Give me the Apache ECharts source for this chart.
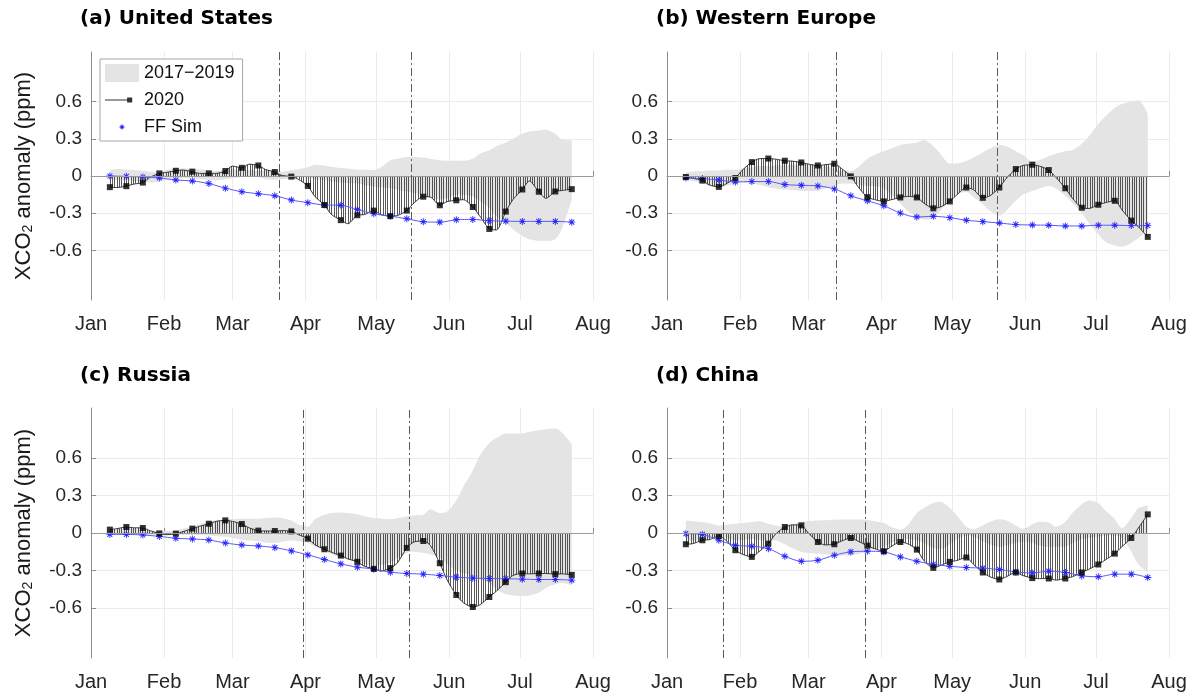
<!DOCTYPE html>
<html>
<head>
<meta charset="utf-8">
<script src="https://cdn.jsdelivr.net/npm/echarts@6.0.0/dist/echarts.min.js"></script>
<style>
  html, body { margin: 0; background: #fff; }
  #chart { width: 1193px; height: 694px; }
</style>
</head>
<body>
<div id="chart"></div>
<script>
// axis ticks
var monthLabels = ['Jan', 'Feb', 'Mar', 'Apr', 'May', 'Jun', 'Jul', 'Aug']
var monthStarts = [0, 31, 60, 91, 121, 152, 182, 213]
var yTicks = [-0.6, -0.3, 0, 0.3, 0.6]

// day of year (Jan 1 = 0): weekly points and mid-week points
var days = [8, 11, 15, 18, 22, 25, 29, 32, 36, 39, 43, 46, 50, 53, 57, 60, 64, 67, 71, 74,
  78, 81, 85, 88, 92, 95, 99, 102, 106, 109, 113, 116, 120, 123, 127, 130, 134, 137, 141, 144,
  148, 151, 155, 158, 162, 165, 169, 172, 176, 179, 183, 186, 190, 193, 197, 200, 204]
var weekDays = [8, 15, 22, 29, 36, 43, 50, 57, 64, 71, 78, 85, 92, 99, 106, 113, 120, 127,
  134, 141, 148, 155, 162, 169, 176, 183, 190, 197, 204]

var titles = ['(a) United States', '(b) Western Europe', '(c) Russia', '(d) China']
var eventDays = [[80, 136], [72, 140], [90, 135], [24, 84]]

// (a) United States
var usObs = [-0.090, -0.093, -0.082, -0.066, -0.053, -0.011, 0.021, 0.029, 0.042, 0.048,
  0.035, 0.021, 0.021, 0.021, 0.040, 0.080, 0.066, 0.095, 0.085, 0.053,
  0.032, 0.005, -0.005, -0.027, -0.080, -0.165, -0.234, -0.310, -0.356, -0.385,
  -0.316, -0.311, -0.279, -0.311, -0.324, -0.319, -0.279, -0.218, -0.167, -0.170,
  -0.236, -0.207, -0.196, -0.191, -0.250, -0.324, -0.427, -0.435, -0.287, -0.191,
  -0.109, -0.040, -0.127, -0.180, -0.125, -0.117, -0.106]
var usHi = [0.048, 0.056, 0.053, 0.048, 0.042, 0.035, 0.035, 0.048, 0.061, 0.061,
  0.061, 0.053, 0.048, 0.042, 0.048, 0.053, 0.048, 0.048, 0.042, 0.048,
  0.042, 0.035, 0.048, 0.055, 0.070, 0.090, 0.085, 0.075, 0.065, 0.060,
  0.050, 0.050, 0.048, 0.070, 0.127, 0.140, 0.154, 0.154, 0.149, 0.140,
  0.127, 0.122, 0.122, 0.122, 0.140, 0.180, 0.207, 0.240, 0.270, 0.300,
  0.340, 0.358, 0.366, 0.372, 0.340, 0.292, 0.287]
var usLo = [-0.027, -0.032, -0.037, -0.040, -0.045, -0.053, -0.045, -0.030, -0.019, -0.019,
  -0.019, -0.027, -0.032, -0.037, -0.027, -0.019, -0.011, -0.005, -0.011, -0.027,
  -0.032, -0.027, -0.019, -0.011, -0.011, -0.027, -0.032, -0.045, -0.053, -0.058,
  -0.058, -0.072, -0.085, -0.092, -0.098, -0.110, -0.125, -0.138, -0.150, -0.178,
  -0.190, -0.178, -0.151, -0.151, -0.165, -0.204, -0.258, -0.324, -0.377, -0.430,
  -0.483, -0.510, -0.523, -0.523, -0.510, -0.417, -0.190]
var usFF = [0, -0.003, -0.008, -0.016, -0.032, -0.040, -0.061, -0.098, -0.127, -0.143,
  -0.159, -0.194, -0.215, -0.234, -0.236, -0.271, -0.305, -0.324, -0.345, -0.369,
  -0.372, -0.353, -0.350, -0.361, -0.364, -0.366, -0.366, -0.366, -0.372]

// (b) Western Europe
var weObs = [-0.008, -0.019, -0.037, -0.072, -0.088, -0.064, -0.016, 0.048, 0.112, 0.139,
  0.141, 0.136, 0.123, 0.120, 0.109, 0.096, 0.085, 0.091, 0.099, 0.061,
  -0.003, -0.085, -0.171, -0.190, -0.205, -0.192, -0.173, -0.165, -0.173, -0.219,
  -0.261, -0.250, -0.205, -0.152, -0.093, -0.110, -0.176, -0.160, -0.093, -0.019,
  0.056, 0.085, 0.091, 0.080, 0.048, -0.011, -0.099, -0.179, -0.256, -0.262,
  -0.232, -0.215, -0.200, -0.272, -0.360, -0.410, -0.491]
var weHi = [0.030, 0.035, 0.040, 0.045, 0.045, 0.050, 0.050, 0.060, 0.070, 0.080,
  0.080, 0.085, 0.090, 0.090, 0.090, 0.090, 0.085, 0.080, 0.060, 0.040,
  0.040, 0.070, 0.140, 0.170, 0.200, 0.220, 0.250, 0.260, 0.270, 0.290,
  0.240, 0.180, 0.100, 0.100, 0.120, 0.150, 0.190, 0.220, 0.250, 0.240,
  0.200, 0.170, 0.120, 0.130, 0.160, 0.180, 0.200, 0.210, 0.260, 0.320,
  0.420, 0.480, 0.550, 0.580, 0.600, 0.610, 0.500]
var weLo = [-0.030, -0.040, -0.060, -0.080, -0.090, -0.080, -0.060, -0.050, -0.060, -0.070,
  -0.090, -0.100, -0.110, -0.110, -0.120, -0.120, -0.120, -0.100, -0.080, -0.060,
  -0.060, -0.070, -0.080, -0.080, -0.100, -0.150, -0.220, -0.280, -0.330, -0.350,
  -0.340, -0.280, -0.200, -0.150, -0.130, -0.170, -0.230, -0.280, -0.320, -0.280,
  -0.200, -0.150, -0.120, -0.100, -0.080, -0.100, -0.160, -0.220, -0.300, -0.380,
  -0.470, -0.530, -0.560, -0.570, -0.540, -0.500, -0.440]
var weFF = [-0.016, -0.021, -0.032, -0.048, -0.045, -0.045, -0.069, -0.075, -0.080, -0.104,
  -0.160, -0.200, -0.240, -0.299, -0.331, -0.325, -0.336, -0.357, -0.368, -0.379,
  -0.392, -0.395, -0.397, -0.403, -0.403, -0.397, -0.397, -0.400, -0.400]

// (c) Russia
var ruObs = [0.027, 0.035, 0.048, 0.042, 0.040, 0.019, -0.003, -0.013, -0.005, 0.011,
  0.035, 0.053, 0.074, 0.093, 0.101, 0.093, 0.072, 0.042, 0.019, 0.016,
  0.016, 0.019, 0.013, -0.013, -0.045, -0.093, -0.130, -0.154, -0.181, -0.207,
  -0.231, -0.266, -0.287, -0.305, -0.281, -0.239, -0.119, -0.072, -0.064, -0.100,
  -0.242, -0.372, -0.496, -0.558, -0.592, -0.575, -0.512, -0.465, -0.393, -0.340,
  -0.324, -0.327, -0.324, -0.324, -0.329, -0.327, -0.335]
var ruHi = [0.020, 0.030, 0.040, 0.035, 0.025, 0.015, 0.013, 0.015, 0.020, 0.035,
  0.050, 0.070, 0.090, 0.100, 0.110, 0.112, 0.114, 0.114, 0.114, 0.120,
  0.125, 0.120, 0.100, 0.070, 0.050, 0.110, 0.146, 0.160, 0.165, 0.160,
  0.150, 0.135, 0.120, 0.115, 0.110, 0.120, 0.133, 0.140, 0.146, 0.190,
  0.160, 0.170, 0.260, 0.370, 0.500, 0.620, 0.720, 0.760, 0.797, 0.797,
  0.797, 0.810, 0.823, 0.830, 0.836, 0.800, 0.710]
var ruLo = [-0.013, -0.013, -0.013, -0.013, -0.015, -0.015, -0.015, -0.015, -0.015, -0.015,
  -0.015, -0.018, -0.020, -0.025, -0.030, -0.040, -0.053, -0.060, -0.066, -0.075,
  -0.080, -0.070, -0.060, -0.065, -0.080, -0.110, -0.146, -0.170, -0.200, -0.210,
  -0.226, -0.245, -0.266, -0.255, -0.239, -0.200, -0.159, -0.150, -0.160, -0.170,
  -0.200, -0.250, -0.300, -0.320, -0.345, -0.370, -0.400, -0.450, -0.490, -0.500,
  -0.505, -0.500, -0.478, -0.440, -0.410, -0.400, -0.420]
var ruFF = [-0.011, -0.011, -0.016, -0.027, -0.042, -0.048, -0.056, -0.080, -0.096, -0.104,
  -0.117, -0.143, -0.175, -0.212, -0.247, -0.273, -0.289, -0.313, -0.324, -0.329,
  -0.340, -0.353, -0.361, -0.364, -0.366, -0.369, -0.372, -0.372, -0.377]

// (d) China
var cnObs = [-0.090, -0.085, -0.058, -0.053, -0.024, -0.058, -0.138, -0.170, -0.191, -0.150,
  -0.085, -0.010, 0.048, 0.065, 0.061, 0.000, -0.072, -0.095, -0.090, -0.065,
  -0.040, -0.065, -0.101, -0.125, -0.146, -0.110, -0.072, -0.085, -0.133, -0.220,
  -0.279, -0.260, -0.231, -0.220, -0.196, -0.250, -0.316, -0.350, -0.372, -0.350,
  -0.316, -0.340, -0.361, -0.365, -0.364, -0.377, -0.364, -0.350, -0.316, -0.290,
  -0.252, -0.215, -0.165, -0.110, -0.040, 0.040, 0.149]
var cnHi = [0.100, 0.095, 0.088, 0.080, 0.060, 0.065, 0.074, 0.080, 0.088, 0.095,
  0.075, 0.060, 0.050, 0.070, 0.088, 0.095, 0.100, 0.102, 0.106, 0.108,
  0.109, 0.108, 0.105, 0.095, 0.080, 0.050, 0.027, 0.060, 0.160, 0.200,
  0.240, 0.250, 0.200, 0.140, 0.050, 0.030, 0.060, 0.090, 0.110, 0.100,
  0.060, 0.030, 0.070, 0.090, 0.085, 0.050, 0.090, 0.160, 0.230, 0.260,
  0.240, 0.180, 0.110, 0.040, 0.120, 0.200, 0.220]
var cnLo = [-0.060, -0.060, -0.060, -0.040, -0.020, -0.040, -0.060, -0.055, -0.050, -0.055,
  -0.060, -0.060, -0.090, -0.120, -0.150, -0.160, -0.165, -0.170, -0.178, -0.180,
  -0.178, -0.170, -0.150, -0.130, -0.110, -0.080, -0.055, -0.045, -0.060, -0.080,
  -0.120, -0.130, -0.090, -0.050, -0.020, -0.030, -0.070, -0.090, -0.110, -0.100,
  -0.080, -0.070, -0.080, -0.100, -0.110, -0.110, -0.110, -0.080, -0.050, -0.040,
  -0.030, -0.020, -0.020, -0.040, -0.150, -0.250, -0.320]
var cnFF = [-0.005, -0.011, -0.058, -0.098, -0.106, -0.125, -0.186, -0.226, -0.218, -0.178,
  -0.151, -0.146, -0.151, -0.191, -0.226, -0.250, -0.266, -0.276, -0.281, -0.292,
  -0.311, -0.319, -0.305, -0.316, -0.343, -0.350, -0.329, -0.329, -0.356]

var panels = [
  { obs: usObs, hi: usHi, lo: usLo, ff: usFF },
  { obs: weObs, hi: weHi, lo: weLo, ff: weFF },
  { obs: ruObs, hi: ruHi, lo: ruLo, ff: ruFF },
  { obs: cnObs, hi: cnHi, lo: cnLo, ff: cnFF }
]

// layout
var FONT = '"Liberation Sans", Arial, sans-serif'
var layout = [
  { left: 91, top: 52, width: 502, height: 248, tLeft: 80, tTop: 9 },
  { left: 667, top: 52, width: 502, height: 248, tLeft: 656, tTop: 9 },
  { left: 91, top: 408, width: 502, height: 250, tLeft: 80, tTop: 366 },
  { left: 667, top: 408, width: 502, height: 250, tLeft: 656, tTop: 366 }
]
var BAND = '#e4e4e4'
var STAR = 'path://M8.75,0H11.25V20H8.75Z M0,8.75H20V11.25H0Z M2.1,3.9L3.9,2.1L17.9,16.1L16.1,17.9Z M16.1,2.1L17.9,3.9L3.9,17.9L2.1,16.1Z'
var ICON_2020 = 'path://M0,0L0,0Z M40,20L40,20Z M0,9.4H28V10.6H0Z M26,7H32V13H26Z'
var ICON_FF = 'path://M0,0L0,0Z M40,20L40,20Z M19.4,7H20.6V13H19.4Z M17,9.4H23V10.6H17Z M17.8,8.6L18.6,7.8L22.2,11.4L21.4,12.2Z M21.4,7.8L22.2,8.6L18.6,12.2L17.8,11.4Z'

var dayCats = []
for (var d = 0; d <= 213; d++) dayCats.push(String(d))

function isMonth (idx) {
  return monthStarts.indexOf(idx) >= 0
}

function hatch () {
  var c = document.createElement('canvas')
  c.width = 7
  c.height = 8
  var g = c.getContext('2d')
  g.fillStyle = 'rgba(25,25,25,0.72)'
  ;[0, 2, 5].forEach(function (x) { g.fillRect(x, 0, 1, 8) })
  return c
}
var hatchImg = hatch()

var chart = echarts.init(document.getElementById('chart'), null, { renderer: 'canvas' })

var grid = [], xAxis = [], yAxis = [], title = [], series = []

panels.forEach(function (p, i) {
  var L = layout[i]
  grid.push({ left: L.left, top: L.top, width: L.width, height: L.height, outerBoundsMode: 'none' })
  title.push({
    text: titles[i], left: L.tLeft, top: L.tTop, padding: 0,
    textStyle: { fontFamily: '"DejaVu Sans", sans-serif', fontWeight: 'bold', fontSize: 20, color: '#000' }
  })
  xAxis.push({
    type: 'category', gridIndex: i, data: dayCats, boundaryGap: false,
    axisLine: { lineStyle: { color: '#8c8c8c' } },
    axisTick: { inside: true, length: 5, interval: isMonth, lineStyle: { color: '#8c8c8c' } },
    axisLabel: {
      interval: isMonth, margin: 14, fontFamily: FONT, fontSize: 20, color: '#262626',
      formatter: function (v) { return monthLabels[monthStarts.indexOf(+v)] }
    },
    splitLine: { show: true, interval: isMonth, lineStyle: { color: '#ebebeb' } }
  })
  yAxis.push({
    type: 'value', gridIndex: i, min: -1, max: 1,
    axisLine: { show: true, lineStyle: { color: '#8c8c8c' } },
    axisTick: { show: true, inside: true, length: 5, customValues: yTicks, lineStyle: { color: '#8c8c8c' } },
    axisLabel: {
      customValues: yTicks, margin: 9, fontFamily: FONT, fontSize: 19, color: '#262626',
      formatter: function (v) { return v === 0 ? '0' : v.toFixed(1) }
    },
    splitLine: { lineStyle: { color: '#ebebeb' } },
    name: i % 2 === 0 ? 'XCO{s|2} anomaly (ppm)' : '',
    nameLocation: 'middle', nameGap: 56,
    nameTextStyle: {
      fontFamily: FONT, fontSize: 22, color: '#1a1a1a',
      rich: { s: { fontFamily: FONT, fontSize: 14, color: '#1a1a1a', padding: [9, 0, 0, 0] } }
    }
  })

  // 2017-2019 range band
  series.push({
    type: 'line', xAxisIndex: i, yAxisIndex: i, stack: 'band' + i, stackStrategy: 'all',
    data: days.map(function (x, k) { return [x, p.lo[k]] }),
    symbol: 'none', smooth: 0.3, lineStyle: { width: 0 }, silent: true, z: 1
  })
  series.push({
    name: '2017−2019', type: 'line', xAxisIndex: i, yAxisIndex: i, stack: 'band' + i, stackStrategy: 'all',
    data: days.map(function (x, k) { return [x, p.hi[k] - p.lo[k]] }),
    symbol: 'none', smooth: 0.3, color: BAND, lineStyle: { width: 0 },
    areaStyle: { color: BAND, opacity: 1 }, silent: true, z: 1
  })

  // 2020 curve with stems to zero
  series.push({
    type: 'line', xAxisIndex: i, yAxisIndex: i,
    data: days.map(function (x, k) { return [x, p.obs[k]] }),
    symbol: 'none', smooth: 0.25, lineStyle: { color: '#262626', width: 0.9 },
    areaStyle: { color: { image: hatchImg, repeat: 'repeat' }, opacity: 1, origin: 'auto' },
    silent: true, z: 2,
    markLine: {
      silent: true, symbol: 'none', label: { show: false }, animation: false,
      lineStyle: { color: '#5a5a5a', width: 1, type: [8, 3, 2, 3] },
      data: [
        { yAxis: 0, lineStyle: { color: '#9a9a9a', width: 1.2, type: 'solid' } },
        { xAxis: eventDays[i][0] },
        { xAxis: eventDays[i][1] }
      ]
    }
  })

  // FF simulation
  series.push({
    name: 'FF Sim', type: 'line', xAxisIndex: i, yAxisIndex: i,
    data: weekDays.map(function (x, k) { return [x, p.ff[k]] }),
    smooth: 0.3, symbol: STAR, symbolSize: 7, showAllSymbol: true,
    color: '#2424ff', lineStyle: { color: '#5a5aff', width: 1 }, silent: true, z: 3
  })

  // 2020 weekly markers
  series.push({
    name: '2020', type: 'scatter', xAxisIndex: i, yAxisIndex: i,
    data: weekDays.map(function (x, k) { return [x, p.obs[2 * k]] }),
    symbol: 'rect', symbolSize: 6, color: '#000', silent: true, z: 4
  })
})

chart.setOption({
  animation: false,
  backgroundColor: '#fff',
  title: title,
  grid: grid,
  xAxis: xAxis,
  yAxis: yAxis,
  legend: {
    left: 100, top: 59, orient: 'vertical', z: 10,
    backgroundColor: '#fff', borderColor: '#a6a6a6', borderWidth: 1,
    padding: [5, 8, 5, 5], itemWidth: 34, itemHeight: 18, itemGap: 9,
    selectedMode: false,
    textStyle: { fontFamily: FONT, fontSize: 18, color: '#111' },
    data: [
      { name: '2017−2019', icon: 'rect', itemStyle: { color: BAND, borderWidth: 0 } },
      { name: '2020', icon: ICON_2020, itemStyle: { color: '#000', borderWidth: 0 } },
      { name: 'FF Sim', icon: ICON_FF, itemStyle: { color: '#2424ff', borderWidth: 0 } }
    ]
  },
  series: series
})
</script>
</body>
</html>
